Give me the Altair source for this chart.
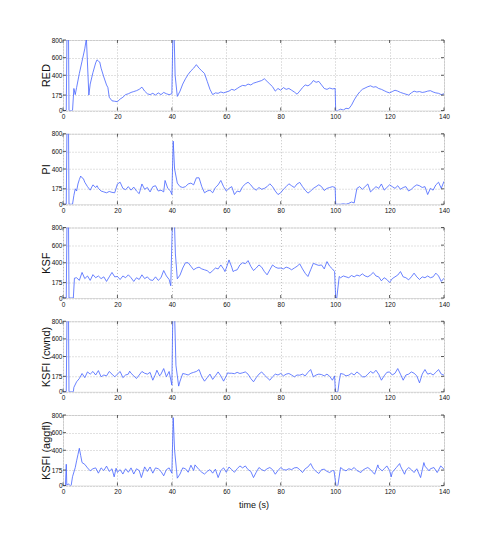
import altair as alt
import pandas as pd

# ---------------- data ----------------
x_ticks = [0, 20, 40, 60, 80, 100, 120, 140]
y_ticks = [0, 175, 400, 600, 800]
titles = ["RED", "PI", "KSF", "KSFI (cwnd)", "KSFI (aggfl)"]

red_t = [0, 1.2, 1.5, 2.0, 2.2, 3.5, 4, 4.5, 5, 6, 7, 8, 8.6, 9.5, 10, 11, 12, 12.5, 13, 13.5, 14, 15, 16, 16.5,
         17, 18, 19, 20, 21, 22, 23, 24, 25, 26, 27, 28, 29, 30, 31, 32, 33, 34, 35, 36, 37, 38, 39, 40, 40.4, 40.8,
         41.2, 42, 43, 44, 45, 46, 47, 48, 49, 50, 51, 52, 53, 54, 55, 56, 57, 58, 59, 60, 61, 62, 63, 64, 65, 66,
         67, 68, 69, 70, 71, 72, 73, 74, 75, 76, 77, 78, 79, 80, 81, 82, 83, 84, 85, 86, 87, 88, 89, 90, 91, 92, 93,
         94, 95, 96, 97, 98, 99, 100, 100.2, 101, 102, 103, 104, 105, 106, 107, 108, 109, 110, 111, 112, 113, 114,
         115, 116, 117, 118, 119, 120, 121, 122, 123, 124, 125, 126, 127, 128, 129, 130, 131, 132, 133, 134, 135,
         136, 137, 138, 139, 140]
red_v = [0, 0, 1000, 1000, 0, 0, 250, 180, 260, 420, 560, 700, 820, 175, 300, 430, 540, 575, 560, 550, 480, 380,
         290, 260, 150, 110, 105, 100, 130, 150, 180, 190, 205, 215, 225, 240, 265, 220, 190, 180, 195, 175, 200,
         180, 205, 190, 180, 190, 900, 900, 400, 160, 220, 300, 360, 410, 450, 480, 520, 480, 450, 420, 330, 240,
         180, 200, 195, 210, 200, 210, 220, 240, 230, 250, 270, 285, 280, 300, 290, 310, 320, 330, 340, 360, 330,
         300, 270, 220, 250, 230, 260, 240, 250, 230, 210, 185, 220, 260, 290, 280, 300, 340, 320, 330, 290, 250,
         240, 255, 245, 250, 0, 0, 15, 5, 25, 20, 60, 120, 170, 210, 240, 255, 270, 280, 265, 270, 250, 240, 225,
         210, 200, 215, 230, 220, 205, 195, 185, 175, 200, 220, 210, 215, 205, 210, 220, 225, 210, 200, 195, 180,
         190]

pi_t = [0, 1.2, 1.5, 2.0, 2.2, 3.5, 4, 4.5, 5, 5.5, 6, 6.5, 7, 7.5, 8, 9, 10, 11, 12, 12.5, 13, 14, 15, 16, 17, 18,
        19, 20, 21, 22, 23, 24, 25, 26, 27, 28, 29, 30, 31, 32, 33, 34, 35, 36, 37, 37.5, 38.5, 39.5, 40, 40.5, 41,
        42, 43, 44, 45, 46, 47, 48, 49, 50, 51, 52, 53, 54, 55, 56, 57, 58, 59, 60, 61, 62, 63, 64, 65, 66, 67, 68,
        69, 70, 71, 72, 73, 74, 75, 76, 77, 78, 79, 80, 81, 82, 83, 84, 85, 86, 87, 88, 89, 90, 91, 92, 93, 94, 95,
        96, 97, 98, 99, 100, 100.2, 101, 102, 103, 104, 105, 106, 107, 108, 109, 110, 111, 112, 113, 114, 115, 116,
        117, 118, 119, 120, 121, 122, 123, 124, 125, 126, 127, 128, 129, 130, 131, 132, 133, 134, 135, 136, 137,
        138, 139, 140]
pi_v = [0, 0, 1000, 1000, 0, 0, 100, 175, 150, 230, 280, 320, 300, 290, 250, 200, 160, 220, 190, 210, 180, 150,
        140, 130, 145, 135, 130, 230, 250, 180, 165, 200, 160, 195, 150, 120, 230, 170, 190, 140, 200, 210, 150,
        160, 140, 270, 180, 150, 110, 716, 400, 240, 200, 190, 200, 230, 240, 220, 300, 300, 200, 130, 150, 160,
        130, 190, 220, 270, 200, 150, 180, 200, 110, 150, 140, 200, 230, 250, 220, 180, 160, 190, 170, 180, 200,
        232, 200, 150, 110, 130, 170, 200, 232, 210, 190, 230, 248, 200, 160, 126, 150, 180, 200, 221, 200, 156,
        180, 190, 200, 190, 0, 0, 0, 5, 0, 10, 25, 15, 180, 200, 170, 200, 230, 140, 170, 200, 180, 230, 160, 190,
        220, 200, 180, 210, 170, 190, 200, 150, 170, 200, 220, 210, 190, 200, 110, 180, 160, 220, 250, 180, 260]

ksf_t = [0, 1.2, 1.5, 2.0, 2.2, 3.8, 4.2, 5, 6, 7, 8, 9, 10, 11, 12, 13, 14, 15, 16, 17, 18, 19, 20, 21, 22, 23,
         24, 25, 26, 27, 28, 29, 30, 31, 32, 33, 34, 35, 36, 37, 38, 39, 39.6, 40.3, 40.8, 41.3, 42, 43, 44, 45,
         46, 47, 48, 49, 50, 51, 52, 53, 54, 55, 56, 57, 58, 59, 59.5, 60, 61, 62, 62.5, 63, 64, 65, 66, 67, 68,
         69, 70, 71, 72, 73, 74, 75, 76, 77, 78, 79, 80, 81, 82, 83, 84, 85, 86, 87, 88, 89, 90, 91, 92, 93, 94,
         95, 96, 97, 98, 99, 99.8, 100.2, 100.6, 101.5, 102, 103, 104, 105, 106, 107, 108, 109, 110, 111, 112, 113,
         114, 115, 116, 117, 118, 119, 120, 121, 122, 123, 124, 125, 126, 127, 128, 129, 130, 131, 132, 133, 134,
         135, 136, 137, 138, 139, 140]
ksf_v = [0, 0, 1000, 1000, 0, 0, 225, 230, 200, 290, 220, 250, 200, 265, 230, 250, 220, 240, 188, 240, 290, 240,
         244, 210, 250, 230, 263, 230, 188, 230, 210, 263, 220, 240, 205, 200, 240, 200, 230, 312, 250, 210, 139,
         1000, 1000, 500, 218, 260, 340, 400, 400, 360, 320, 340, 350, 330, 320, 310, 282, 310, 340, 330, 375, 330,
         300, 340, 432, 350, 300, 310, 320, 375, 400, 390, 424, 360, 312, 340, 375, 350, 300, 263, 320, 375, 350,
         338, 340, 330, 350, 340, 320, 340, 360, 387, 330, 280, 244, 320, 394, 380, 370, 375, 330, 413, 360, 330,
         300, 0, 0, 244, 230, 250, 240, 230, 255, 240, 260, 250, 274, 250, 240, 260, 290, 250, 240, 195, 230, 210,
         176, 220, 240, 260, 300, 240, 230, 206, 240, 282, 240, 210, 240, 230, 250, 230, 240, 282, 250, 188, 225]

cwnd_t = [0, 1.2, 1.5, 2.0, 2.2, 3.8, 4, 5, 6, 7, 8, 9, 10, 11, 12, 13, 14, 15, 16, 17, 18, 19, 20, 21, 22, 23,
          24, 24.5, 25, 26, 27, 28, 29, 30, 31, 32, 33, 34, 34.5, 35.5, 36, 37, 38, 39, 40, 40.4, 40.9, 41.5, 42.5,
          43, 44, 45, 46, 47, 48, 49, 50, 51, 52, 53, 54, 55, 56, 57, 58, 59, 60, 60.5, 61, 62, 63, 64, 65, 66, 67,
          68, 69, 70, 71, 72, 73, 74, 75, 76, 77, 78, 79, 80, 81, 82, 83, 84, 85, 86, 87, 88, 89, 90, 91, 92, 93,
          94, 95, 96, 97, 98, 99, 99.8, 100.1, 101, 101.5, 102, 103, 104, 105, 106, 107, 108, 109, 110, 111, 112,
          113, 114, 115, 116, 117, 118, 119, 120, 121, 122, 123, 124, 125, 126, 127, 128, 129, 130, 131, 132, 133,
          134, 135, 136, 137, 138, 139, 140]
cwnd_v = [0, 0, 1000, 1000, 0, 0, 50, 113, 150, 207, 160, 225, 200, 230, 190, 240, 170, 190, 180, 230, 200, 169,
          200, 230, 160, 190, 200, 233, 210, 180, 150, 190, 230, 210, 200, 220, 131, 200, 244, 180, 200, 263, 170,
          230, 75, 1000, 1000, 300, 64, 120, 207, 200, 190, 210, 220, 230, 252, 170, 120, 160, 200, 140, 180, 225,
          180, 120, 180, 215, 210, 210, 205, 220, 207, 215, 225, 200, 150, 113, 160, 200, 225, 190, 160, 131, 170,
          200, 190, 207, 180, 200, 207, 190, 169, 190, 188, 200, 180, 220, 252, 169, 190, 200, 195, 180, 200, 175,
          131, 180, 0, 0, 120, 207, 200, 180, 188, 210, 190, 225, 200, 170, 169, 200, 230, 210, 244, 200, 131, 180,
          220, 225, 190, 210, 263, 200, 131, 190, 200, 225, 210, 180, 101, 200, 252, 200, 210, 190, 220, 252, 200,
          188]

aggfl_t = [0, 0.9, 1.2, 1.4, 2, 2.5, 3, 3.5, 4.5, 5, 5.5, 6, 6.5, 7, 8, 9, 10, 11, 12, 13, 14, 15, 16, 17, 18,
           18.8, 19.5, 20, 21, 22, 23, 24, 25, 26, 27, 28, 28.8, 30, 31, 32, 33, 34, 35, 36, 37, 38, 39, 40, 40.5,
           41, 42, 43, 44, 45, 46, 47, 48, 48.5, 50, 51, 52, 53, 54, 55, 56, 57, 58, 59, 60, 61, 62, 63, 64, 65, 66,
           67, 68, 69, 70, 71, 72, 73, 74, 75, 76, 77, 78, 79, 80, 81, 82, 83, 84, 85, 86, 87, 88, 89, 90, 91, 92,
           93, 94, 95, 96, 97, 98, 99, 99.6, 100.3, 101, 102, 103, 104, 105, 106, 107, 108, 109.5, 110, 111, 112,
           113, 114.5, 115.7, 116, 117.3, 118, 119, 120, 120.6, 121, 122.5, 123.7, 124, 125.5, 126, 127, 128, 129,
           130, 131.4, 132.6, 133, 134.5, 135, 136.3, 137.5, 138.8, 140]
aggfl_v = [0, 0, 241, 0, 20, 0, 0, 100, 203, 280, 350, 422, 340, 260, 240, 200, 166, 190, 200, 140, 200, 170, 220,
           160, 190, 98, 196, 150, 180, 130, 190, 150, 200, 130, 190, 170, 90, 211, 160, 210, 140, 200, 190, 160,
           110, 180, 200, 140, 770, 400, 83, 130, 200, 190, 150, 230, 170, 234, 180, 150, 130, 160, 180, 140, 185,
           90, 170, 200, 150, 210, 180, 150, 190, 222, 200, 222, 180, 160, 90, 150, 204, 180, 166, 190, 204, 180,
           128, 170, 204, 180, 175, 190, 180, 200, 204, 180, 147, 190, 210, 249, 190, 160, 136, 180, 185, 160, 147,
           170, 166, 0, 0, 204, 180, 166, 190, 180, 204, 170, 147, 170, 190, 204, 180, 128, 234, 200, 166, 190, 222,
           170, 98, 150, 204, 249, 220, 128, 170, 204, 180, 147, 190, 90, 260, 220, 166, 190, 204, 147, 222, 185]

series = [(red_t, red_v), (pi_t, pi_v), (ksf_t, ksf_v), (cwnd_t, cwnd_v), (aggfl_t, aggfl_v)]

# ---------------- chart ----------------
W, H = 381, 70.5
LABEL_FONT = "Liberation Sans Narrow, Liberation Sans, Arial"
TITLE_FONT = "Liberation Sans, Arial"
LINE_COLOR = "#4462ff"
TICK_COLOR = "#333333"
GRID_COLOR = "#b4b4b4"

xt_df = pd.DataFrame({"t": x_ticks})
yt_df = pd.DataFrame({"v": y_ticks})


def panel(t, v, title, last):
    df = pd.DataFrame({"t": t, "v": v})
    xscale = alt.Scale(domain=[0, 140], nice=False, zero=False)
    yscale = alt.Scale(domain=[0, 800], nice=False)
    xaxis = alt.Axis(values=x_ticks, grid=True, gridDash=[1, 2], gridColor=GRID_COLOR, gridWidth=0.8,
                     ticks=False, domain=False, labelPadding=3, labelFontSize=6.5, labelFont=LABEL_FONT,
                     labelColor="#111111", labelFlush=False,
                     title="time (s)" if last else "", titleFont=LABEL_FONT, titleFontSize=9,
                     titleFontWeight="normal", titlePadding=5, titleColor="#111111")
    yaxis = alt.Axis(values=y_ticks, grid=True, gridDash=[1, 2], gridColor=GRID_COLOR, gridWidth=0.8,
                     ticks=False, domain=False, labelPadding=1, labelFontSize=6.5, labelFont=LABEL_FONT,
                     labelColor="#111111", labelFlush=False,
                     title=title, titleFont=TITLE_FONT, titleFontSize=11, titleFontWeight="normal",
                     titleColor="#111111", titleX=-12, titleY=H / 2)
    line = alt.Chart(df).mark_line(color=LINE_COLOR, strokeWidth=0.8, clip=True).encode(
        x=alt.X("t:Q", scale=xscale, axis=xaxis),
        y=alt.Y("v:Q", scale=yscale, axis=yaxis),
    )
    top_ticks = alt.Chart(xt_df).mark_rule(color=TICK_COLOR, strokeWidth=0.8).encode(
        x=alt.X("t:Q", scale=xscale, axis=xaxis), y=alt.value(0), y2=alt.value(3))
    bot_ticks = alt.Chart(xt_df).mark_rule(color=TICK_COLOR, strokeWidth=0.8).encode(
        x=alt.X("t:Q", scale=xscale, axis=xaxis), y=alt.value(H - 3), y2=alt.value(H))
    left_ticks = alt.Chart(yt_df).mark_rule(color=TICK_COLOR, strokeWidth=0.8).encode(
        y=alt.Y("v:Q", scale=yscale, axis=yaxis), x=alt.value(0), x2=alt.value(3))
    right_ticks = alt.Chart(yt_df).mark_rule(color=TICK_COLOR, strokeWidth=0.8).encode(
        y=alt.Y("v:Q", scale=yscale, axis=yaxis), x=alt.value(W - 3), x2=alt.value(W))
    return alt.layer(line, top_ticks, bot_ticks, left_ticks, right_ticks).properties(width=W, height=H)


panels = [panel(t, v, title, i == len(series) - 1) for i, ((t, v), title) in enumerate(zip(series, titles))]

chart = alt.vconcat(*panels, spacing=22.75, bounds="flush").properties(
    padding={"left": 31, "top": 28, "right": 5, "bottom": 5}
).configure_view(stroke="#111111", strokeWidth=1).configure(background="white")

chart.save("out.html", embed_options={"renderer": "svg", "actions": False})
